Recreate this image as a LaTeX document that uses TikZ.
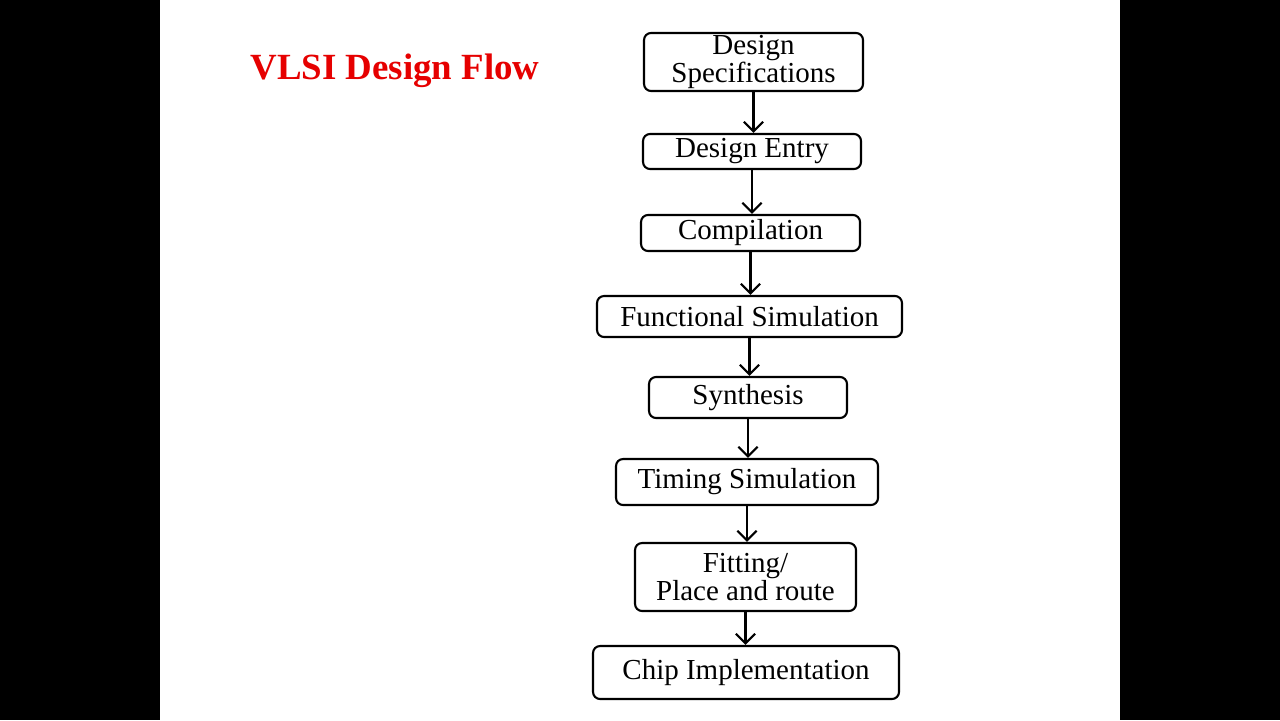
\documentclass[tikz,border=0pt]{standalone}
\usepackage{fontspec}
\setmainfont{Liberation Serif}
\usetikzlibrary{arrows.meta}
\definecolor{titlered}{RGB}{230,0,0}
\begin{document}
\begin{tikzpicture}[x=0.02cm,y=-0.02cm,
  flowbox/.style={draw=black, line width=1.2pt, rounded corners=4pt, fill=white,
    inner sep=0pt, align=center, font=\fontsize{16.5}{15.5}\selectfont},
  flowarrow/.style={draw=black, line width=1.2pt, -{Straight Barb[length=5.5pt,width=11pt,line width=1.2pt]}}]
\useasboundingbox (0,0) rectangle (1280,720);
\fill[black] (0,0) rectangle (1280,720);
\fill[white] (160,0) rectangle (1120,720);
\node[text=titlered, font=\fontsize{21}{25}\bfseries\selectfont] (title) at (395,71) {VLSI Design Flow};
\node[flowbox, minimum width=4.38cm, minimum height=1.16cm] (spec) at (753.5,62) {Design\\Specifications};
\node[flowbox, minimum width=4.36cm, minimum height=0.70cm] (entry) at (752,151.5) {Design Entry};
\node[flowbox, minimum width=4.38cm, minimum height=0.72cm] (comp) at (750.5,233) {Compilation};
\node[flowbox, minimum width=6.10cm, minimum height=0.82cm] (func) at (749.5,316.5) {Functional Simulation};
\node[flowbox, minimum width=3.96cm, minimum height=0.82cm] (synth) at (748,397.5) {Synthesis};
\node[flowbox, minimum width=5.24cm, minimum height=0.92cm] (timing) at (747,482) {Timing Simulation};
\node[flowbox, minimum width=4.42cm, minimum height=1.36cm] (fit) at (745.5,577) {Fitting/\\Place and route};
\node[flowbox, minimum width=6.12cm, minimum height=1.06cm] (chip) at (746,672.5) {Chip Implementation};
\draw[flowarrow] (spec.south) -- (spec.south |- entry.north);
\draw[flowarrow] (entry.south) -- (entry.south |- comp.north);
\draw[flowarrow] (comp.south) -- (comp.south |- func.north);
\draw[flowarrow] (func.south) -- (func.south |- synth.north);
\draw[flowarrow] (synth.south) -- (synth.south |- timing.north);
\draw[flowarrow] (timing.south) -- (timing.south |- fit.north);
\draw[flowarrow] (fit.south) -- (fit.south |- chip.north);
\end{tikzpicture}
\end{document}
